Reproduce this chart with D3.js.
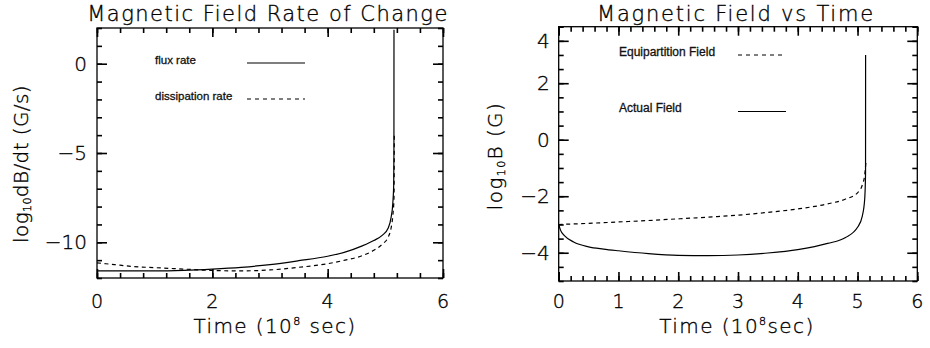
<!DOCTYPE html>
<html>
<head>
<meta charset="utf-8">
<script src="https://cdn.jsdelivr.net/npm/d3@7"></script>
<style>
  html, body { margin: 0; padding: 0; background: #fff; }
  svg { display: block; }
</style>
</head>
<body>
<div id="chart"></div>
<script>
/* Two IDL-style panels: field rate of change (left) and field vs time (right). */

// Left panel: log10 dB/dt (G/s) against time (1e8 s)
var fluxT = [0, 0.5, 1.0, 1.5, 2.0, 2.5, 3.0, 3.5, 4.0, 4.3, 4.6, 4.8, 4.95, 5.05, 5.10, 5.13, 5.145, 5.149, 5.15];
var fluxV = [-11.6, -11.6, -11.6, -11.57, -11.5, -11.4, -11.25, -11.03, -10.78, -10.55, -10.2, -9.9, -9.6, -9.2, -8.6, -7.8, -6.8, -5.0, 1.9];
var dissT = [0, 0.3, 0.6, 1.0, 1.5, 2.0, 2.5, 3.0, 3.5, 4.0, 4.3, 4.6, 4.8, 4.95, 5.05, 5.10, 5.13, 5.15, 5.155];
var dissV = [-11.15, -11.25, -11.35, -11.42, -11.5, -11.58, -11.6, -11.55, -11.4, -11.2, -11.0, -10.75, -10.45, -10.1, -9.7, -9.2, -8.5, -7.5, -4.0];

// Right panel: log10 B (G) against time
var equiT = [0, 0.5, 1, 1.5, 2, 2.5, 3, 3.5, 4, 4.5, 4.8, 5.0, 5.08, 5.12, 5.14];
var equiV = [-3.0, -2.96, -2.91, -2.86, -2.8, -2.74, -2.67, -2.57, -2.45, -2.27, -2.1, -1.88, -1.6, -1.25, -0.8];
var actT = [0, 0.03, 0.1, 0.25, 0.5, 0.75, 1, 1.5, 2, 2.5, 3, 3.5, 4, 4.5, 4.8, 5.0, 5.08, 5.12, 5.134, 5.135];
var actV = [-3.0, -3.2, -3.4, -3.62, -3.79, -3.87, -3.93, -4.03, -4.09, -4.1, -4.08, -4.01, -3.89, -3.67, -3.46, -3.1, -2.7, -2.1, -1.2, 3.0];

// Tick values and labels
var leftXMajor = [0, 2, 4, 6];
var leftXLabels = ["0", "2", "4", "6"];
var leftXMinor = [0, 0.4, 0.8, 1.2, 1.6, 2, 2.4, 2.8, 3.2, 3.6, 4, 4.4, 4.8, 5.2, 5.6, 6];
var leftYMajor = [-10, -5, 0];
var leftYLabels = ["\u221210", "\u22125", "0"];
var leftYMinor = [-12, -11, -10, -9, -8, -7, -6, -5, -4, -3, -2, -1, 0, 1, 2];
var rightXMajor = [0, 1, 2, 3, 4, 5, 6];
var rightXLabels = ["0", "1", "2", "3", "4", "5", "6"];
var rightXMinor = d3.range(0, 30.5, 1).map(function (i) { return i / 5; });
var rightYMajor = [-4, -2, 0, 2, 3.5];
var rightYLabels = ["\u22124", "\u22122", "0", "2", "4"];
var rightYMinor = d3.range(-10, 8.5, 1).map(function (i) { return i / 2; });

var W = 930, H = 348;
var HERSHEY = "'DejaVu Sans', sans-serif";
var HELV = "'Liberation Sans', Arial, sans-serif";

var svg = d3.select("#chart").append("svg")
  .attr("width", W).attr("height", H);

/* Stretch a text node to a target width with letter-spacing (Hershey glyphs run wide). */
function fit(sel, target) {
  var node = sel.node();
  var len = node.getComputedTextLength();
  var n = node.textContent.length;
  if (n > 1) sel.attr("letter-spacing", ((target - len) / (n - 1)).toFixed(2));
  return sel;
}

/* Thin stroke-font look, darkened a touch so it reads like the plotted vector text. */
function hershey(sel, size) {
  return sel.attr("font-family", HERSHEY).attr("font-size", size).attr("font-weight", 300)
    .attr("fill", "#000").attr("stroke", "#000").attr("stroke-width", 0.35);
}

function panel(cfg) {
  var x = d3.scaleLinear().domain(cfg.xDomain).range([cfg.x0, cfg.x1]);
  var y = d3.scaleLinear().domain(cfg.yDomain).range([cfg.y1, cfg.y0]);
  var g = svg.append("g");

  g.append("rect")
    .attr("x", cfg.x0).attr("y", cfg.y0)
    .attr("width", cfg.x1 - cfg.x0).attr("height", cfg.y1 - cfg.y0)
    .attr("fill", "none").attr("stroke", "#000").attr("stroke-width", 1.3);

  /* Ticks point inward on all four sides, IDL style: each edge uses the
     axis that faces into the box, with a positive tick size. */
  function ticks(axisFn, scale, values, size, transform) {
    g.append("g").attr("transform", transform)
      .call(axisFn(scale).tickValues(values).tickSizeInner(size).tickSizeOuter(0).tickFormat(function () { return ""; }))
      .call(function (a) { a.select(".domain").remove(); })
      .selectAll("line").attr("stroke", "#000").attr("stroke-width", 1.6);
  }
  ticks(d3.axisTop, x, cfg.xMinor, 5, "translate(0," + cfg.y1 + ")");
  ticks(d3.axisTop, x, cfg.xMajor, 9, "translate(0," + cfg.y1 + ")");
  ticks(d3.axisBottom, x, cfg.xMinor, 5, "translate(0," + cfg.y0 + ")");
  ticks(d3.axisBottom, x, cfg.xMajor, 9, "translate(0," + cfg.y0 + ")");
  ticks(d3.axisRight, y, cfg.yMinor, 5, "translate(" + cfg.x0 + ",0)");
  ticks(d3.axisRight, y, cfg.yMajor, 10, "translate(" + cfg.x0 + ",0)");
  ticks(d3.axisLeft, y, cfg.yMinor, 5, "translate(" + cfg.x1 + ",0)");
  ticks(d3.axisLeft, y, cfg.yMajor, 10, "translate(" + cfg.x1 + ",0)");

  /* Tick labels */
  cfg.xMajor.forEach(function (v, i) {
    hershey(g.append("text"), 19)
      .attr("x", x(v)).attr("y", cfg.xLabelY)
      .attr("text-anchor", "middle")
      .text(cfg.xLabels[i]);
  });
  cfg.yMajor.forEach(function (v, i) {
    hershey(g.append("text"), 20)
      .attr("x", cfg.x0 - cfg.yLabelGap).attr("y", y(v)).attr("dy", "0.36em")
      .attr("text-anchor", "end")
      .text(cfg.yLabels[i]);
  });

  /* Title */
  fit(hershey(g.append("text"), 21)
    .attr("x", (cfg.x0 + cfg.x1) / 2 - 2).attr("y", 20.5)
    .attr("text-anchor", "middle")
    .text(cfg.title), cfg.titleW);

  /* X axis title with superscript exponent */
  var xt = hershey(g.append("text"), 20)
    .attr("x", cfg.xTitleX).attr("y", 333)
    .attr("text-anchor", "middle");
  xt.append("tspan").text("Time (10");
  xt.append("tspan").attr("font-size", 11).attr("dy", -8).text("8");
  xt.append("tspan").attr("dy", 8).text(cfg.xTitleTail);
  xt.attr("letter-spacing", cfg.xTitleSpacing);

  /* Y axis title with subscript 10 */
  var yt = hershey(g.append("text"), 20)
    .attr("transform", "translate(" + cfg.yTitleX + "," + cfg.yTitleY + ") rotate(-90)")
    .attr("text-anchor", "middle")
    .attr("letter-spacing", cfg.yTitleSpacing);
  yt.append("tspan").text("log");
  yt.append("tspan").attr("font-size", 11).attr("dy", 3).text("10");
  yt.append("tspan").attr("dy", -3).text(cfg.yTitleTail);

  /* Curves */
  var line = d3.line()
    .x(function (d) { return x(d[0]); })
    .y(function (d) { return y(d[1]); })
    .curve(d3.curveMonotoneX);
  cfg.series.forEach(function (s) {
    g.append("path")
      .attr("d", line(d3.zip(s.t, s.v)))
      .attr("fill", "none").attr("stroke", "#000")
      .attr("stroke-width", 1.2)
      .attr("stroke-dasharray", s.dash ? "4,3.5" : null);
  });

  /* Legend */
  cfg.legend.forEach(function (l) {
    g.append("text")
      .attr("x", l.tx).attr("y", l.ty)
      .attr("font-family", HELV).attr("font-size", l.fs)
      .attr("fill", "#111")
      .attr("stroke", "#111").attr("stroke-width", 0.3)
      .text(l.label);
    g.append("line")
      .attr("x1", l.lx0).attr("x2", l.lx1).attr("y1", l.ly).attr("y2", l.ly)
      .attr("stroke", "#000").attr("stroke-width", 1.2)
      .attr("stroke-dasharray", l.dash ? "4,4" : null);
  });
}

panel({
  x0: 97, x1: 443, y0: 28, y1: 278,
  xDomain: [0, 6], yDomain: [-12, 2],
  xMajor: leftXMajor, xLabels: leftXLabels, xMinor: leftXMinor,
  yMajor: leftYMajor, yLabels: leftYLabels, yMinor: leftYMinor,
  xLabelY: 308, yLabelGap: 10,
  title: "Magnetic Field Rate of Change", titleW: 360,
  xTitleX: 275, xTitleTail: " sec)", xTitleSpacing: 1.4,
  yTitleX: 28, yTitleY: 164, yTitleTail: "dB/dt  (G/s)", yTitleSpacing: 0.4,
  series: [
    { t: fluxT, v: fluxV, dash: false },
    { t: dissT, v: dissV, dash: true }
  ],
  legend: [
    { label: "flux rate", tx: 155, ty: 64, fs: 11.5, lx0: 247, lx1: 305, ly: 63, dash: false },
    { label: "dissipation rate", tx: 155, ty: 100, fs: 11.5, lx0: 247, lx1: 305, ly: 99, dash: true }
  ]
});

panel({
  x0: 558.7, x1: 917.3, y0: 26.7, y1: 281,
  xDomain: [0, 6], yDomain: [-5, 4],
  xMajor: rightXMajor, xLabels: rightXLabels, xMinor: rightXMinor,
  yMajor: rightYMajor, yLabels: rightYLabels, yMinor: rightYMinor,
  xLabelY: 307.5, yLabelGap: 9,
  title: "Magnetic Field vs Time", titleW: 276,
  xTitleX: 737, xTitleTail: "sec)", xTitleSpacing: 1.4,
  yTitleX: 502, yTitleY: 156, yTitleTail: "B (G)", yTitleSpacing: 1.4,
  series: [
    { t: equiT, v: equiV, dash: true },
    { t: actT, v: actV, dash: false }
  ],
  legend: [
    { label: "Equipartition Field", tx: 619, ty: 56, fs: 12, lx0: 738, lx1: 786, ly: 55, dash: true },
    { label: "Actual Field", tx: 619, ty: 112, fs: 12, lx0: 738, lx1: 786, ly: 111.5, dash: false }
  ]
});
</script>
</body>
</html>
